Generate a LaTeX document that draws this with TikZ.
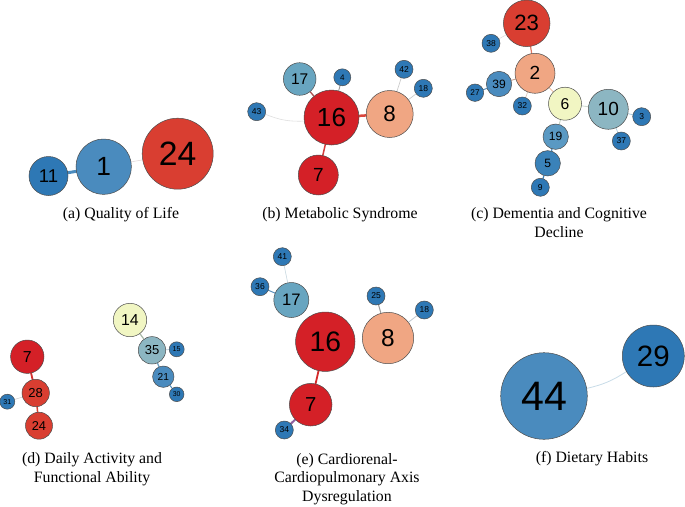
\documentclass[tikz,border=0pt]{standalone}
\usepackage{fontspec}
\setmainfont{Liberation Serif}
\setsansfont{Liberation Sans}
\pgfdeclarelayer{bg}
\pgfdeclarelayer{edges}
\pgfsetlayers{bg,edges,main}
\definecolor{dblue}{HTML}{2E78B5}
\definecolor{mblue}{HTML}{4A8BBE}
\definecolor{lblue}{HTML}{5A99C3}
\definecolor{tealc}{HTML}{68A5C0}
\definecolor{gteal}{HTML}{8CB6C2}
\definecolor{cream}{HTML}{F1F6C3}
\definecolor{salmon}{HTML}{F0A683}
\definecolor{bred}{HTML}{D42027}
\definecolor{mred}{HTML}{D93E31}
\definecolor{bblue}{HTML}{3A82B9}
\tikzset{
  gn/.style={circle, draw=black!70, line width=0.5pt, inner sep=0pt, text=black},
  ed/.style={line cap=round},
  captext/.style={anchor=base, inner sep=0pt, font=\fontsize{15.8pt}{19pt}\selectfont}
}
\newcommand\gnode[6]{%
  \pgfmathsetmacro\gfs{#4*0.95}%
  \node[gn, fill=#5, minimum size={2*#4pt}, font=\sffamily\fontsize{\gfs pt}{\gfs pt}\selectfont] (#1) at (#2,#3) {#6};}
\begin{document}
\begin{tikzpicture}[x=1pt,y=-1pt]
\begin{pgfonlayer}{bg}
\fill[white] (0,0) rectangle (685,506);
\end{pgfonlayer}
\useasboundingbox (0,0) rectangle (685,506);
% (a)
\gnode{a11}{48.5}{176}{19.5}{dblue}{11}
\gnode{a1}{103.7}{166.7}{27.7}{mblue}{1}
\gnode{a24}{177.7}{153.7}{35.5}{mred}{24}
% (b)
\gnode{b17}{299.7}{79}{16.3}{tealc}{17}
\gnode{b4}{342.3}{77.3}{8.5}{dblue}{4}
\gnode{b42}{404}{69.3}{9}{dblue}{42}
\gnode{b18}{423.3}{88.3}{9}{dblue}{18}
\gnode{b43}{256.7}{111.7}{9}{dblue}{43}
\gnode{b16}{331.5}{117.5}{27.5}{bred}{16}
\gnode{b8}{389.7}{114}{23.5}{salmon}{8}
\gnode{b7}{318.3}{175}{20}{bred}{7}
% (c)
\gnode{c23}{526.7}{23.3}{23.3}{mred}{23}
\gnode{c38}{491}{43.3}{9}{dblue}{38}
\gnode{c2}{535}{73.3}{20}{salmon}{2}
\gnode{c39}{499}{84}{12.7}{mblue}{39}
\gnode{c27}{475}{92.7}{8.7}{dblue}{27}
\gnode{c32}{522.3}{106}{9}{dblue}{32}
\gnode{c6}{565}{103.7}{16.5}{cream}{6}
\gnode{c10}{608.3}{109.3}{20}{gteal}{10}
\gnode{c3}{641.7}{116.7}{9}{dblue}{3}
\gnode{c37}{621.3}{141}{9}{dblue}{37}
\gnode{c19}{555.7}{136.7}{12.7}{lblue}{19}
\gnode{c5}{547.7}{163.3}{12.7}{bblue}{5}
\gnode{c9}{540.3}{187.3}{9}{dblue}{9}
% (d)
\gnode{d7}{27.3}{356.7}{16.7}{bred}{7}
\gnode{d28}{35.7}{393}{13.7}{mred}{28}
\gnode{d31}{7.3}{401.7}{7.5}{dblue}{31}
\gnode{d24}{39}{425.7}{13.5}{mred}{24}
\gnode{d14}{130}{320}{16.7}{cream}{14}
\gnode{d35}{152}{350.3}{13.7}{gteal}{35}
\gnode{d15}{176.7}{349.3}{7.5}{dblue}{15}
\gnode{d21}{163.3}{376.7}{10.7}{mblue}{21}
\gnode{d30}{176.7}{394.3}{7.3}{dblue}{30}
% (e)
\gnode{e41}{282.3}{256.7}{9}{dblue}{41}
\gnode{e36}{260}{286.7}{9}{dblue}{36}
\gnode{e17}{291.3}{300}{17.5}{tealc}{17}
\gnode{e25}{376}{296}{9}{dblue}{25}
\gnode{e18}{424.3}{310}{9}{dblue}{18}
\gnode{e16}{325.3}{341.7}{29.7}{bred}{16}
\gnode{e8}{388}{338}{25.7}{salmon}{8}
\gnode{e7}{310.7}{404.7}{21.3}{bred}{7}
\gnode{e34}{284.3}{430}{9}{dblue}{34}
% (f)
\gnode{f44}{544}{396}{43.3}{mblue}{44}
\gnode{f29}{653.3}{356}{31}{dblue}{29}
% edges
\begin{pgfonlayer}{edges}
\draw[ed, mblue, line width=3pt] (a11) -- (a1);
\draw[ed, red!15!gray!25, line width=0.6pt] (a1) -- (a24);
\draw[ed, color={rgb,255:red,170;green,80;blue,80}, line width=1.3pt] (b16) -- (b17);
\draw[ed, gray!80, line width=0.9pt] (b16) -- (b4);
\draw[ed, color={rgb,255:red,217;green,70;blue,60}, line width=2.5pt] (b16) -- (b8);
\draw[ed, color={rgb,255:red,212;green,60;blue,60}, line width=1.5pt] (b16) -- (b7);
\draw[ed, gray!25, line width=0.6pt] (b43) to[bend right=12] (b16);
\draw[ed, gray!40, line width=0.7pt] (b8) -- (b42);
\draw[ed, gray!40, line width=0.7pt] (b8) -- (b18);
\draw[ed, color={rgb,255:red,224;green,120;blue,96}, line width=1.2pt] (c23) -- (c2);
\draw[ed, gray!25, line width=0.6pt] (c23) -- (c38);
\draw[ed, color={rgb,255:red,200;green,160;blue,144}, line width=0.9pt] (c2) -- (c39);
\draw[ed, color={rgb,255:red,91;green,143;blue,187}, line width=1pt] (c39) -- (c27);
\draw[ed, color={rgb,255:red,216;green,192;blue,176}, line width=0.6pt] (c2) -- (c32);
\draw[ed, color={rgb,255:red,240;green,192;blue,160}, line width=0.8pt] (c2) -- (c6);
\draw[ed, color={rgb,255:red,204;green,216;blue,208}, line width=0.8pt] (c6) -- (c10);
\draw[ed, color={rgb,255:red,192;green,208;blue,192}, line width=0.8pt] (c6) -- (c19);
\draw[ed, color={rgb,255:red,168;green,200;blue,216}, line width=0.8pt] (c10) -- (c3);
\draw[ed, color={rgb,255:red,168;green,200;blue,216}, line width=0.6pt] (c10) -- (c37);
\draw[ed, mblue, line width=1.2pt] (c19) -- (c5);
\draw[ed, bblue, line width=1.2pt] (c5) -- (c9);
\draw[ed, color={rgb,255:red,214;green,48;blue,48}, line width=1.8pt] (d7) -- (d28);
\draw[ed, color={rgb,255:red,216;green,64;blue,48}, line width=1.5pt] (d28) -- (d24);
\draw[ed, gray!35, line width=0.6pt] (d28) -- (d31);
\draw[ed, color={rgb,255:red,168;green,184;blue,168}, line width=1.2pt] (d14) -- (d35);
\draw[ed, color={rgb,255:red,176;green,200;blue,216}, line width=0.7pt] (d35) -- (d15);
\draw[ed, color={rgb,255:red,106;green,158;blue,192}, line width=1.2pt] (d35) -- (d21);
\draw[ed, mblue, line width=1pt] (d21) -- (d30);
\draw[ed, color={rgb,255:red,200;green,216;blue,224}, line width=0.6pt] (e17) -- (e41);
\draw[ed, color={rgb,255:red,91;green,144;blue,187}, line width=1pt] (e17) -- (e36);
\draw[ed, gray!80, line width=1pt] (e8) -- (e25);
\draw[ed, color={rgb,255:red,192;green,200;blue,208}, line width=0.8pt] (e8) -- (e18);
\draw[ed, color={rgb,255:red,212;green,42;blue,42}, line width=1.8pt] (e16) -- (e7);
\draw[ed, color={rgb,255:red,144;green,96;blue,160}, line width=2pt] (e7) -- (e34);
\draw[ed, color={rgb,255:red,200;green,220;blue,232}, line width=0.8pt] (f44) to[bend right=10] (f29);
\end{pgfonlayer}
% captions
\node[captext] (capA) at (121,218) {(a) Quality of Life};
\node[captext] (capB) at (340,218) {(b) Metabolic Syndrome};
\node[captext] (capC1) at (559,218) {(c) Dementia and Cognitive};
\node[captext] (capC2) at (559,237) {Decline};
\node[captext] (capD1) at (92,463.5) {(d) Daily Activity and};
\node[captext] (capD2) at (92,482.5) {Functional Ability};
\node[captext] (capE1) at (347,464) {(e) Cardiorenal-};
\node[captext] (capE2) at (347,482.5) {Cardiopulmonary Axis};
\node[captext] (capE3) at (347,501) {Dysregulation};
\node[captext] (capF) at (592,462.5) {(f) Dietary Habits};
\end{tikzpicture}
\end{document}
